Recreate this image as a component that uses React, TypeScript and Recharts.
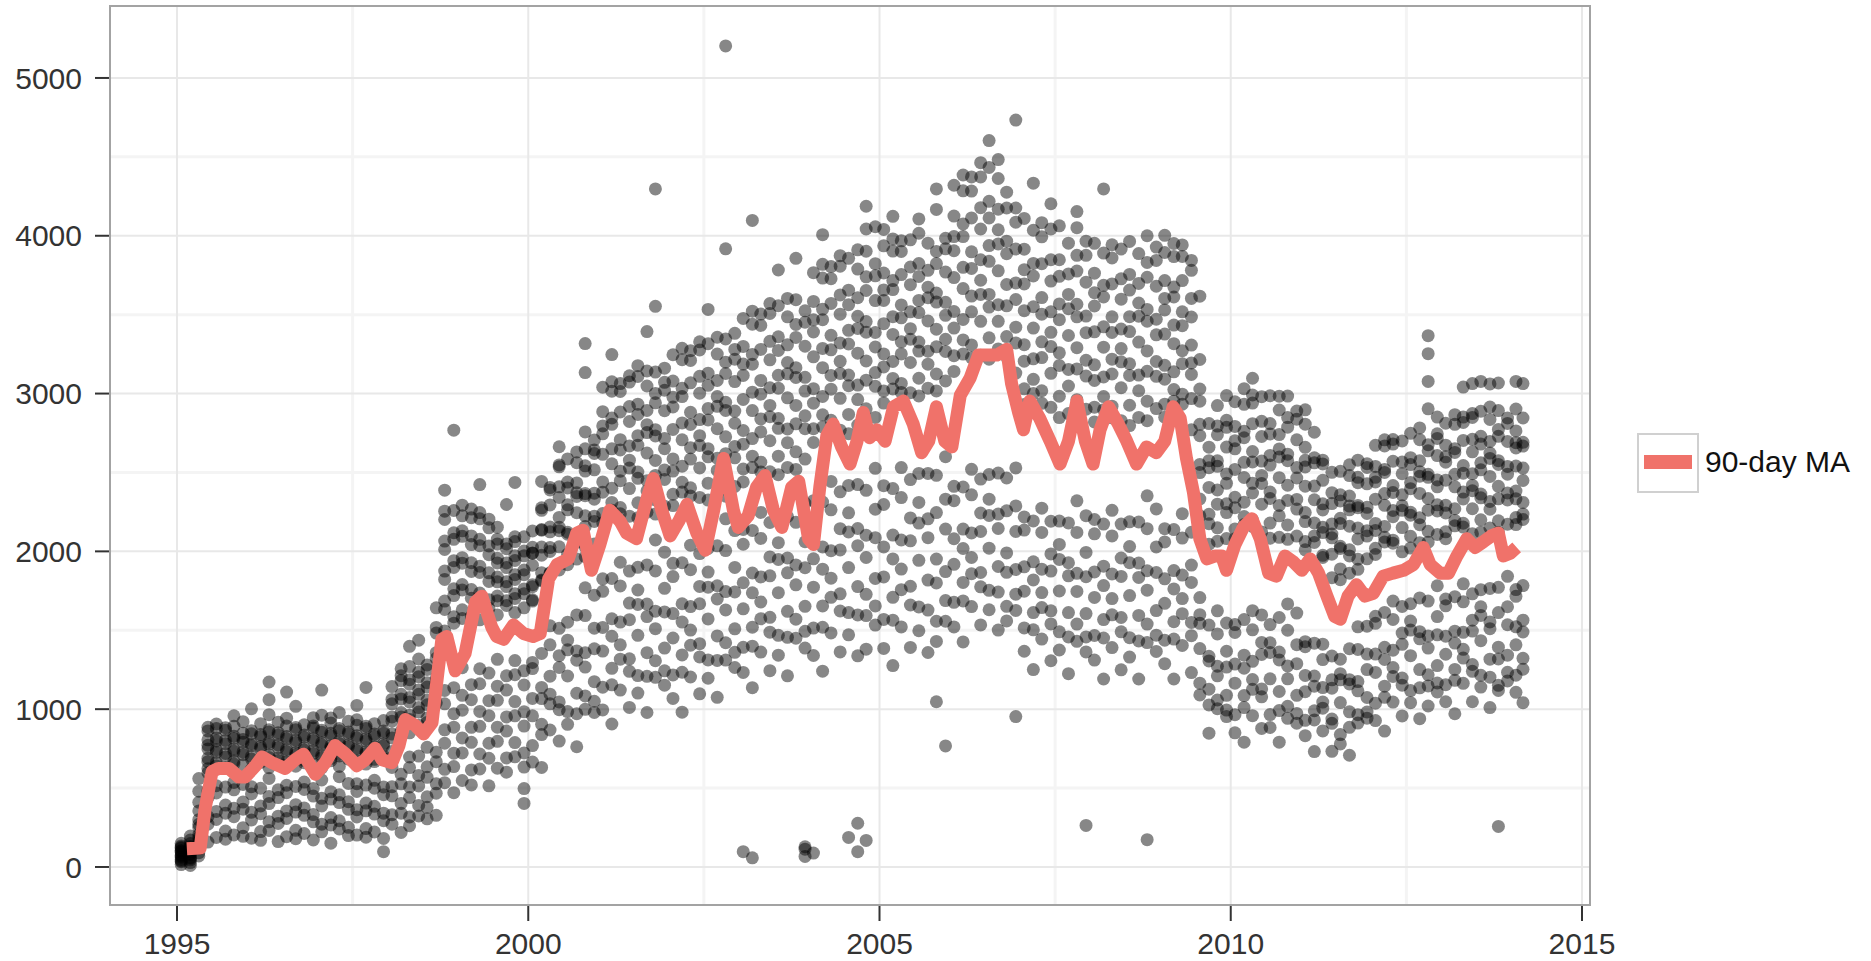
import React from "react";
import { ComposedChart, Scatter, Line, XAxis, YAxis, CartesianGrid } from "recharts";

const yearTicks = [1995, 2000, 2005, 2010, 2015];
const yearMinor = [1997.5, 2002.5, 2007.5, 2012.5];
const countTicks = [0, 1000, 2000, 3000, 4000, 5000];
const countMinor = [500, 1500, 2500, 3500, 4500];
const xDomain: [number, number] = [1994.046, 2015.114];
const yDomain: [number, number] = [-241, 5456];

// 90-day moving average
const maYears = [
  1995.14, 1995.33, 1995.4, 1995.5, 1995.59, 1995.74, 1995.88, 1995.97, 1996.12, 1996.21,
  1996.35, 1996.54, 1996.68, 1996.8, 1996.97, 1997.11, 1997.25, 1997.4, 1997.56, 1997.68,
  1997.82, 1997.92, 1998.06, 1998.16, 1998.25, 1998.39, 1998.51, 1998.63, 1998.77, 1998.84,
  1998.96, 1999.1, 1999.25, 1999.34, 1999.48, 1999.55, 1999.65, 1999.79, 1999.93, 2000.07,
  2000.17, 2000.29, 2000.41, 2000.57, 2000.69, 2000.78, 2000.9, 2001.02, 2001.16, 2001.31,
  2001.4, 2001.54, 2001.69, 2001.78, 2001.9, 2002.02, 2002.14, 2002.26, 2002.4, 2002.52,
  2002.64, 2002.78, 2002.92, 2002.99, 2003.13, 2003.25, 2003.37, 2003.49, 2003.61, 2003.75,
  2003.85, 2003.99, 2004.06, 2004.15, 2004.25, 2004.34, 2004.46, 2004.58, 2004.68, 2004.77,
  2004.86, 2004.96, 2005.08, 2005.2, 2005.34, 2005.48, 2005.6, 2005.7, 2005.81, 2005.93,
  2006.03, 2006.15, 2006.29, 2006.41, 2006.53, 2006.67, 2006.81, 2006.88, 2006.98, 2007.05,
  2007.14, 2007.28, 2007.43, 2007.57, 2007.69, 2007.81, 2007.93, 2008.04, 2008.14, 2008.26,
  2008.4, 2008.52, 2008.66, 2008.8, 2008.94, 2009.06, 2009.18, 2009.28, 2009.37, 2009.47,
  2009.56, 2009.66, 2009.78, 2009.87, 2009.94, 2010.06, 2010.18, 2010.3, 2010.42, 2010.54,
  2010.65, 2010.77, 2010.89, 2011.01, 2011.13, 2011.25, 2011.37, 2011.48, 2011.56, 2011.67,
  2011.79, 2011.91, 2012.03, 2012.17, 2012.31, 2012.46, 2012.6, 2012.74, 2012.84, 2012.98,
  2013.1, 2013.22, 2013.36, 2013.48, 2013.6, 2013.71, 2013.81, 2013.88, 2013.98, 2014.07,
];
const maValues = [
  115, 120, 370, 606, 624, 624, 570, 570, 642, 697,
  661, 624, 679, 715, 588, 661, 770, 715, 642, 679,
  752, 679, 661, 770, 934, 897, 843, 915, 1443, 1461,
  1243, 1352, 1680, 1716, 1520, 1461, 1443, 1534, 1480, 1461,
  1480, 1825, 1916, 1952, 2116, 2134, 1880, 2043, 2261, 2189,
  2116, 2080, 2334, 2462, 2261, 2098, 2189, 2298, 2116, 2007,
  2261, 2589, 2261, 2152, 2225, 2407, 2480, 2261, 2152, 2407,
  2444, 2080, 2043, 2407, 2734, 2807, 2662, 2553, 2698, 2880,
  2720, 2771, 2698, 2916, 2953, 2807, 2625, 2698, 2916, 2698,
  2662, 2989, 3098, 3244, 3244, 3244, 3280, 3062, 2880, 2771,
  2953, 2844, 2698, 2553, 2698, 2953, 2698, 2553, 2771, 2916,
  2807, 2698, 2553, 2662, 2625, 2698, 2916, 2844, 2589, 2371,
  2080, 1952, 1971, 1971, 1880, 2043, 2152, 2207, 2080, 1862,
  1843, 1971, 1934, 1880, 1952, 1862, 1716, 1588, 1570, 1716,
  1789, 1716, 1734, 1843, 1862, 1880, 1916, 2025, 1916, 1862,
  1862, 1971, 2080, 2025, 2062, 2098, 2116, 1971, 1989, 2025,
];

// daily counts, one column per ~6 weeks: [year, counts]
const dots1995to1999: [number, number[]][] = [
  [1995.06, [15, 33, 48, 62, 77, 91, 104, 118, 133, 150, 70, 40, 100, 125]],
  [1995.19, [10, 28, 45, 60, 79, 95, 112, 130, 148, 171, 196, 55, 85, 120]],
  [1995.31, [70, 115, 160, 205, 250, 300, 355, 410, 130, 185, 90, 270, 480, 560]],
  [1995.44, [667, 689, 748, 771, 806, 862, 885, 158, 271, 319, 437, 482, 597, 623]],
  [1995.56, [641, 662, 726, 743, 799, 818, 877, 906, 187, 301, 352, 469, 515]],
  [1995.69, [628, 697, 719, 781, 802, 866, 883, 176, 228, 341, 392, 506]],
  [1995.81, [652, 671, 733, 748, 814, 829, 892, 958, 203, 319, 372, 489, 536]],
  [1995.94, [647, 711, 729, 791, 808, 848, 921, 194, 249, 366, 411, 523]],
  [1996.06, [620, 684, 701, 768, 781, 844, 864, 1002, 182, 297, 346, 463, 508]],
  [1996.19, [663, 681, 749, 763, 827, 839, 908, 169, 224, 338, 387, 499]],
  [1996.31, [629, 694, 711, 778, 791, 856, 869, 965, 1060, 1172, 231, 286, 402, 447, 561]],
  [1996.44, [674, 690, 756, 773, 835, 851, 917, 161, 276, 322, 440, 489]],
  [1996.56, [650, 666, 731, 746, 812, 826, 893, 943, 1108, 192, 307, 355, 471, 518]],
  [1996.69, [639, 709, 724, 789, 803, 869, 884, 1018, 179, 232, 348, 395, 510]],
  [1996.81, [661, 676, 741, 755, 822, 836, 901, 212, 327, 374, 491, 538]],
  [1996.94, [654, 719, 736, 800, 815, 880, 894, 946, 171, 286, 332, 449, 497]],
  [1997.06, [627, 693, 708, 774, 788, 853, 867, 962, 1121, 223, 271, 387, 435, 551]],
  [1997.19, [673, 688, 753, 768, 833, 847, 913, 944, 151, 266, 313, 430, 476]],
  [1997.31, [637, 704, 717, 783, 797, 863, 877, 979, 241, 293, 408, 457, 572]],
  [1997.44, [684, 697, 763, 776, 843, 856, 923, 199, 251, 365, 414, 529]],
  [1997.56, [658, 672, 738, 751, 818, 832, 898, 933, 1024, 202, 317, 363, 479, 528]],
  [1997.69, [652, 718, 731, 798, 812, 878, 892, 1138, 189, 243, 356, 405, 519]],
  [1997.81, [668, 682, 748, 762, 828, 842, 908, 222, 335, 384, 499, 549]],
  [1997.94, [688, 702, 768, 782, 848, 862, 928, 97, 181, 293, 341, 458, 507]],
  [1998.06, [731, 818, 842, 924, 951, 1034, 1062, 1143, 271, 331, 451, 509, 631]],
  [1998.19, [833, 861, 950, 979, 1065, 1094, 1181, 1212, 1256, 219, 341, 403, 527, 587]],
  [1998.31, [850, 934, 962, 1046, 1074, 1158, 1187, 1270, 1398, 262, 317, 440, 507, 630, 697]],
  [1998.44, [898, 982, 1010, 1094, 1122, 1206, 1234, 1318, 1437, 323, 390, 513, 580, 703]],
  [1998.56, [916, 944, 1028, 1056, 1140, 1168, 1252, 1280, 305, 378, 445, 568, 635, 758]],
  [1998.69, [1040, 1162, 1198, 1322, 1358, 1482, 1518, 1642, 327, 467, 527, 667, 727]],
  [1998.81, [1495, 1632, 1685, 1822, 1875, 2012, 2065, 2202, 2255, 2388, 534, 619, 784, 869, 1034, 1119]],
  [1998.94, [1545, 1586, 1720, 1763, 1898, 1941, 2076, 2118, 2259, 2768, 471, 636, 721, 886, 971, 1136]],
  [1999.06, [1575, 1630, 1755, 1790, 1925, 1960, 2095, 2130, 2225, 2293, 548, 723, 818, 993, 1088, 1263]],
  [1999.19, [1588, 1703, 1758, 1873, 1928, 2043, 2098, 2213, 2268, 520, 615, 790, 885, 1060, 1155]],
  [1999.31, [1566, 1696, 1736, 1866, 1906, 2036, 2076, 2206, 2246, 2423, 621, 716, 891, 986, 1161, 1256]],
  [1999.44, [1639, 1694, 1809, 1864, 1979, 2034, 2149, 2204, 514, 689, 784, 959, 1054, 1229]],
  [1999.56, [1597, 1687, 1717, 1807, 1837, 1927, 1957, 2047, 2077, 2153, 626, 796, 886, 1056, 1146, 1316]],
  [1999.69, [1657, 1687, 1777, 1807, 1897, 1927, 2017, 2047, 2297, 601, 691, 861, 951, 1121, 1211]],
  [1999.81, [1612, 1702, 1732, 1822, 1852, 1942, 1972, 2062, 2092, 2437, 698, 788, 958, 1048, 1218, 1308]],
  [1999.94, [1642, 1732, 1762, 1852, 1882, 1972, 2002, 2092, 403, 497, 633, 723, 893, 983, 1153, 1243]],
];

const dots2000to2004: [number, number[]][] = [
  [2000.06, [1685, 1693, 1776, 1789, 1912, 1990, 1988, 2026, 2129, 665, 769, 958, 1068, 1257, 1296]],
  [2000.19, [1813, 1819, 1865, 1976, 2027, 2138, 2134, 2260, 2276, 2443, 631, 839, 904, 1067, 1138, 1353]],
  [2000.31, [1859, 1864, 1999, 2024, 2124, 2154, 2294, 2389, 2404, 868, 1034, 1095, 1209, 1408, 1528]],
  [2000.44, [1882, 2029, 2131, 2153, 2215, 2342, 2409, 2536, 2548, 2663, 798, 997, 1046, 1264, 1339, 1512]],
  [2000.56, [1915, 1982, 2109, 2121, 2263, 2295, 2402, 2439, 2586, 904, 985, 1210, 1376, 1437, 1551]],
  [2000.69, [1951, 2059, 2097, 2245, 2348, 2371, 2434, 2562, 2630, 762, 971, 1101, 1310, 1369, 1597]],
  [2000.81, [1966, 2029, 2157, 2225, 2353, 2366, 2509, 2542, 2650, 2757, 3133, 3317, 999, 1084, 1267, 1358, 1593, 1769]],
  [2000.94, [2047, 2190, 2223, 2331, 2369, 2517, 2620, 2643, 2706, 979, 1050, 1174, 1383, 1513, 1722]],
  [2001.06, [2180, 2240, 2375, 2440, 2615, 2745, 2795, 2885, 3040, 995, 1139, 1368, 1518, 1747, 1826]],
  [2001.19, [2260, 2310, 2400, 2555, 2650, 2805, 2845, 3015, 3075, 3247, 906, 1154, 1259, 1462, 1573, 1828]],
  [2001.31, [2238, 2278, 2448, 2508, 2643, 2708, 2883, 3013, 3063, 1121, 1317, 1408, 1552, 1781, 1931]],
  [2001.44, [2223, 2398, 2528, 2578, 2668, 2823, 2918, 3073, 3113, 1011, 1240, 1319, 1567, 1672, 1875]],
  [2001.56, [2213, 2308, 2463, 2503, 2673, 2733, 2868, 2933, 3108, 3177, 1102, 1213, 1468, 1664, 1755, 1899]],
  [2001.69, [2248, 2383, 2448, 2623, 2753, 2803, 2893, 3048, 3143, 3393, 979, 1208, 1358, 1587, 1666, 1914]],
  [2001.81, [2236, 2326, 2481, 2576, 2731, 2771, 2941, 3001, 3136, 3553, 4297, 1202, 1307, 1510, 1621, 1876, 2072]],
  [2001.94, [2286, 2456, 2516, 2651, 2716, 2891, 3021, 3071, 3161, 1152, 1243, 1387, 1616, 1766, 1995]],
  [2002.06, [2290, 2362, 2509, 2586, 2773, 2915, 2977, 3079, 3246, 1068, 1217, 1451, 1606, 1840, 1924]],
  [2002.19, [2376, 2438, 2540, 2707, 2814, 2981, 3033, 3215, 3287, 981, 1234, 1344, 1552, 1668, 1928]],
  [2002.31, [2351, 2403, 2585, 2657, 2804, 2881, 3068, 3210, 3272, 1204, 1405, 1501, 1650, 1884, 2039]],
  [2002.44, [2342, 2529, 2671, 2733, 2835, 3002, 3109, 3276, 3328, 1097, 1331, 1415, 1668, 1778, 1986]],
  [2002.56, [2325, 2432, 2599, 2651, 2833, 2905, 3052, 3129, 3316, 3533, 1196, 1312, 1572, 1773, 1869, 2018]],
  [2002.69, [2366, 2513, 2590, 2777, 2919, 2981, 3083, 3250, 3357, 1075, 1309, 1464, 1698, 1782, 2035]],
  [2002.81, [2350, 2452, 2619, 2726, 2893, 2945, 3127, 3199, 3346, 3917, 5203, 1311, 1421, 1629, 1745, 2005, 2206]],
  [2002.94, [2411, 2593, 2665, 2812, 2889, 3076, 3218, 3280, 3382, 1264, 1360, 1509, 1743, 1898, 2132]],
  [2003.06, [2440, 2522, 2679, 2766, 2963, 3115, 3187, 3299, 3476, 97, 1233, 1392, 1636, 1801, 2045, 2139]],
  [2003.19, [2531, 2603, 2715, 2892, 3009, 3186, 3248, 3440, 3522, 4097, 58, 1136, 1399, 1519, 1737, 1863, 2133]],
  [2003.31, [2503, 2565, 2757, 2839, 2996, 3083, 3280, 3432, 3504, 1362, 1573, 1679, 1838, 2082, 2247]],
  [2003.44, [2504, 2701, 2853, 2925, 3037, 3214, 3331, 3508, 3570, 1244, 1488, 1582, 1845, 1965, 2183]],
  [2003.56, [2486, 2603, 2780, 2842, 3034, 3116, 3273, 3360, 3557, 3783, 1342, 1468, 1738, 1949, 2055, 2214]],
  [2003.69, [2532, 2689, 2776, 2973, 3125, 3197, 3309, 3486, 3603, 1211, 1455, 1620, 1864, 1958, 2221]],
  [2003.81, [2519, 2631, 2808, 2925, 3102, 3164, 3356, 3438, 3595, 3857, 1450, 1570, 1788, 1914, 2184, 2395]],
  [2003.94, [2585, 2777, 2859, 3016, 3103, 3300, 3452, 3524, 67, 113, 128, 1387, 1493, 1652, 1896, 2061, 2305]],
  [2004.06, [2690, 2777, 2939, 3031, 3233, 3390, 3467, 3584, 3766, 88, 1340, 1514, 1773, 1953, 2212, 2321]],
  [2004.19, [2788, 2865, 2982, 3164, 3286, 3468, 3535, 3732, 3819, 4007, 1241, 1519, 1654, 1887, 2028, 2313]],
  [2004.31, [2764, 2831, 3028, 3115, 3277, 3369, 3571, 3728, 3805, 1483, 1709, 1830, 2004, 2263, 2443]],
  [2004.44, [2768, 2970, 3127, 3204, 3321, 3503, 3625, 3807, 3874, 1363, 1622, 1731, 2009, 2144, 2377]],
  [2004.56, [2746, 2868, 3050, 3117, 3314, 3401, 3563, 3655, 3857, 187, 1471, 1612, 1897, 2123, 2244, 2418]],
  [2004.69, [2800, 2962, 3054, 3256, 3413, 3490, 3607, 3789, 3911, 277, 97, 1338, 1597, 1777, 2036, 2145, 2423]],
  [2004.81, [2786, 2903, 3085, 3207, 3389, 3456, 3653, 3740, 3902, 4043, 4187, 168, 1380, 1593, 1728, 1961, 2102, 2387]],
  [2004.94, [2849, 3046, 3133, 3295, 3387, 3589, 3746, 3823, 4057, 1533, 1654, 1828, 2087, 2267, 2526]],
];

const dots2005to2009: [number, number[]][] = [
  [2005.06, [2940, 3017, 3169, 3251, 3443, 3590, 3657, 3764, 3936, 4040, 1385, 1569, 1838, 2028, 2297, 2416]],
  [2005.19, [3029, 3096, 3203, 3375, 3487, 3659, 3716, 3903, 3980, 4123, 1276, 1564, 1709, 1952, 2103, 2398]],
  [2005.31, [3007, 3064, 3251, 3328, 3480, 3562, 3754, 3901, 3968, 1521, 1757, 1888, 2072, 2341, 2531]],
  [2005.44, [3005, 3197, 3344, 3411, 3518, 3690, 3802, 3974, 1391, 1660, 1779, 2067, 2212, 2455]],
  [2005.56, [2985, 3097, 3269, 3326, 3513, 3590, 3742, 3824, 4016, 4107, 1497, 1648, 1943, 2179, 2310, 2494]],
  [2005.69, [3034, 3186, 3268, 3460, 3607, 3674, 3781, 3953, 1359, 1628, 1818, 2087, 2206, 2494]],
  [2005.81, [3017, 3124, 3296, 3408, 3580, 3637, 3824, 3901, 4167, 4297, 1047, 1429, 1557, 1800, 1951, 2246, 2482]],
  [2005.94, [3080, 3267, 3344, 3496, 3578, 3770, 3917, 3984, 767, 1557, 1688, 1872, 2141, 2331, 2600]],
  [2006.06, [3140, 3240, 3415, 3520, 3735, 3905, 3995, 4125, 4320, 1521, 1677, 1918, 2080, 2321, 2412]],
  [2006.19, [3250, 3340, 3470, 3665, 3800, 3995, 4075, 4285, 4385, 1426, 1686, 1803, 2018, 2141, 2408]],
  [2006.31, [3228, 3308, 3518, 3618, 3793, 3898, 4113, 4283, 4373, 1650, 1858, 1961, 2117, 2358, 2520]],
  [2006.44, [3243, 3458, 3628, 3718, 3848, 4043, 4178, 4373, 4463, 1534, 1775, 1866, 2126, 2243, 2458]],
  [2006.56, [3218, 3353, 3548, 3628, 3838, 3938, 4113, 4218, 4433, 4603, 1630, 1753, 2020, 2228, 2331, 2487]],
  [2006.69, [3283, 3458, 3563, 3778, 3948, 4038, 4168, 4363, 4483, 1501, 1742, 1904, 2145, 2236, 2496]],
  [2006.81, [3231, 3361, 3556, 3691, 3886, 3966, 4176, 4276, 1559, 1652, 1867, 1990, 2257, 2465]],
  [2006.94, [3130, 3321, 3421, 3596, 3701, 3916, 4086, 4176, 4733, 953, 1626, 1729, 1885, 2126, 2288, 2529]],
  [2007.06, [2930, 3030, 3205, 3310, 3525, 3695, 3785, 3915, 4110, 1367, 1515, 1748, 1902, 2135, 2218]],
  [2007.19, [3000, 3090, 3220, 3415, 3550, 3745, 3825, 4035, 4333, 1251, 1503, 1612, 1819, 1934, 2193]],
  [2007.31, [2938, 3018, 3228, 3328, 3503, 3608, 3823, 3993, 4083, 1444, 1644, 1739, 1887, 2120, 2274]],
  [2007.44, [2913, 3128, 3298, 3388, 3518, 3713, 3848, 4043, 4203, 1307, 1540, 1623, 1875, 1984, 2191]],
  [2007.56, [2848, 2983, 3178, 3258, 3468, 3568, 3743, 3848, 4063, 1375, 1490, 1749, 1949, 2044, 2192]],
  [2007.69, [2873, 3048, 3153, 3368, 3538, 3628, 3758, 3953, 1225, 1458, 1612, 1845, 1928, 2180]],
  [2007.81, [2831, 2961, 3156, 3291, 3486, 3566, 3776, 3876, 4051, 4153, 1430, 1539, 1746, 1861, 2120, 2320]],
  [2007.94, [2901, 3111, 3211, 3386, 3491, 3706, 3876, 3966, 263, 1363, 1458, 1606, 1839, 1993, 2226]],
  [2008.06, [2820, 2914, 3083, 3182, 3391, 3555, 3639, 3763, 3952, 1311, 1467, 1708, 1870, 2111, 2202]],
  [2008.19, [2897, 2981, 3105, 3294, 3423, 3612, 3686, 3890, 4297, 1191, 1451, 1568, 1783, 1906, 2173]],
  [2008.31, [2846, 2920, 3124, 3218, 3387, 3486, 3695, 3859, 3943, 1390, 1598, 1701, 1857, 2098, 2260]],
  [2008.44, [2828, 3037, 3201, 3285, 3409, 3598, 3727, 3916, 1249, 1490, 1581, 1841, 1958, 2173]],
  [2008.56, [2797, 2926, 3115, 3189, 3393, 3487, 3656, 3755, 3964, 1330, 1453, 1720, 1928, 2031, 2187]],
  [2008.69, [2849, 3018, 3117, 3326, 3490, 3574, 3698, 3887, 1191, 1432, 1594, 1835, 1926, 2186]],
  [2008.81, [2828, 2952, 3141, 3270, 3459, 3533, 3737, 3831, 4000, 173, 1422, 1539, 1754, 1877, 2144, 2352]],
  [2008.94, [2905, 3109, 3203, 3372, 3471, 3680, 3844, 3928, 1366, 1469, 1625, 1866, 2028, 2269]],
  [2009.06, [2850, 2933, 3091, 3179, 3377, 3530, 3603, 3716, 3894, 4003, 1288, 1437, 1671, 1826, 2060, 2144]],
  [2009.19, [2952, 3025, 3138, 3316, 3434, 3612, 3675, 3868, 3951, 1191, 1444, 1554, 1762, 1878, 2138]],
  [2009.31, [2933, 2996, 3189, 3272, 3430, 3518, 3716, 3869, 3942, 1404, 1605, 1701, 1850, 2084, 2239]],
  [2009.44, [2770, 2968, 3121, 3194, 3307, 3485, 3603, 3781, 3844, 1232, 1466, 1550, 1803, 1913, 2121]],
  [2009.56, [2225, 2332, 2499, 2551, 2733, 2805, 2952, 3029, 3216, 3617, 1090, 1165, 1384, 1544, 1599, 1707]],
  [2009.69, [2045, 2175, 2235, 2405, 2530, 2575, 2660, 2810, 848, 1027, 1127, 1306, 1335, 1533]],
  [2009.81, [2064, 2149, 2299, 2389, 2539, 2574, 2739, 2794, 2924, 1003, 1058, 1211, 1272, 1477, 1623]],
  [2009.94, [2081, 2246, 2301, 2431, 2491, 2661, 2786, 2831, 2987, 953, 994, 1088, 1267, 1367, 1546]],
];

const dots2010to2014: [number, number[]][] = [
  [2010.06, [2080, 2141, 2277, 2343, 2519, 2650, 2701, 2792, 2948, 850, 965, 1165, 1286, 1486, 1536]],
  [2010.19, [2170, 2221, 2312, 2468, 2564, 2720, 2761, 2932, 3031, 791, 1010, 1086, 1260, 1342, 1568]],
  [2010.31, [2158, 2199, 2370, 2431, 2567, 2633, 2809, 2940, 2991, 3097, 959, 1126, 1188, 1303, 1503, 1624]],
  [2010.44, [2123, 2299, 2430, 2481, 2572, 2728, 2824, 2980, 878, 1078, 1128, 1347, 1423, 1597]],
  [2010.56, [2083, 2179, 2335, 2376, 2547, 2608, 2744, 2810, 2986, 884, 966, 1192, 1359, 1421, 1536]],
  [2010.69, [2089, 2225, 2291, 2467, 2598, 2649, 2740, 2896, 2983, 791, 991, 1112, 1312, 1362, 1581]],
  [2010.81, [2076, 2167, 2323, 2419, 2575, 2616, 2787, 2848, 2984, 942, 1018, 1192, 1274, 1500, 1667]],
  [2010.94, [2097, 2268, 2329, 2465, 2531, 2707, 2838, 2889, 911, 973, 1088, 1288, 1409, 1609]],
  [2011.06, [2010, 2062, 2189, 2246, 2413, 2535, 2577, 2659, 2806, 2897, 832, 929, 1111, 1214, 1396, 1428]],
  [2011.19, [2056, 2098, 2180, 2327, 2414, 2561, 2593, 2755, 731, 932, 990, 1146, 1210, 1418]],
  [2011.31, [1961, 1975, 2119, 2153, 2262, 2301, 2450, 2554, 2578, 862, 1006, 1045, 1137, 1314, 1412]],
  [2011.44, [1833, 1982, 2086, 2110, 2174, 2303, 2372, 2501, 733, 910, 937, 1133, 1186, 1337]],
  [2011.56, [1820, 1889, 2018, 2032, 2176, 2210, 2319, 2358, 2507, 780, 839, 1042, 1186, 1225, 1317]],
  [2011.69, [1862, 1971, 2010, 2159, 2263, 2287, 2351, 2480, 2549, 708, 885, 983, 1160, 1187, 1383]],
  [2011.81, [1886, 1950, 2079, 2148, 2277, 2291, 2435, 2469, 2578, 912, 965, 1116, 1175, 1378, 1522]],
  [2011.94, [1953, 2097, 2131, 2240, 2279, 2428, 2532, 2556, 943, 982, 1074, 1251, 1349, 1526]],
  [2012.06, [1980, 2019, 2133, 2177, 2331, 2440, 2469, 2538, 2672, 928, 1038, 1233, 1349, 1544, 1589]],
  [2012.19, [2060, 2089, 2158, 2292, 2366, 2500, 2519, 2668, 2707, 861, 1075, 1146, 1315, 1392, 1613]],
  [2012.31, [2052, 2071, 2220, 2259, 2373, 2417, 2571, 2680, 2709, 1045, 1207, 1264, 1374, 1569, 1685]],
  [2012.44, [1997, 2151, 2260, 2289, 2358, 2492, 2566, 2700, 957, 1152, 1197, 1411, 1482, 1651]],
  [2012.56, [2021, 2095, 2229, 2248, 2397, 2436, 2550, 2594, 2748, 1041, 1118, 1339, 1501, 1558, 1668]],
  [2012.69, [2055, 2169, 2213, 2367, 2476, 2505, 2574, 2708, 2782, 940, 1135, 1251, 1446, 1491, 1705]],
  [2012.81, [2058, 2127, 2261, 2335, 2469, 2488, 2637, 2676, 2903, 3077, 3253, 3367, 1020, 1147, 1218, 1387, 1464, 1685]],
  [2012.94, [2107, 2256, 2295, 2409, 2453, 2607, 2716, 2745, 2851, 1109, 1166, 1276, 1471, 1587, 1782]],
  [2013.06, [2080, 2124, 2243, 2292, 2451, 2565, 2599, 2673, 2812, 1047, 1155, 1348, 1462, 1655, 1698]],
  [2013.19, [2162, 2196, 2270, 2409, 2488, 2627, 2651, 2805, 2866, 971, 1183, 1252, 1419, 1494, 1713]],
  [2013.31, [2154, 2178, 2332, 2376, 2495, 2544, 2703, 2817, 2851, 3041, 1164, 1324, 1379, 1487, 1680, 1794]],
  [2013.44, [2111, 2270, 2384, 2418, 2492, 2631, 2710, 2849, 2873, 3063, 1047, 1240, 1283, 1495, 1564, 1731]],
  [2013.56, [2121, 2200, 2339, 2363, 2517, 2561, 2680, 2729, 2888, 3077, 1140, 1215, 1434, 1594, 1649, 1757]],
  [2013.69, [2148, 2267, 2316, 2475, 2589, 2623, 2697, 2836, 2915, 3061, 1010, 1203, 1317, 1510, 1553, 1765]],
  [2013.81, [2120, 2194, 2333, 2412, 2551, 2575, 2729, 2773, 2892, 3067, 257, 1119, 1151, 1318, 1393, 1612, 1772]],
  [2013.94, [2172, 2326, 2370, 2489, 2538, 2697, 2811, 2845, 1179, 1234, 1342, 1535, 1649, 1842]],
  [2014.06, [2170, 2214, 2333, 2382, 2541, 2655, 2689, 2763, 2902, 3077, 1107, 1215, 1408, 1522, 1715, 1758]],
  [2014.16, [2202, 2236, 2310, 2449, 2528, 2667, 2691, 2845, 3063, 1041, 1253, 1322, 1489, 1564, 1783]],
];

const maData = maYears.map((year, i) => ({ year, ma: maValues[i] }));
const dotData = [...dots1995to1999, ...dots2000to2004, ...dots2005to2009, ...dots2010to2014].flatMap(
  ([year, counts]) => counts.map((count) => ({ year, count }))
);

const FONT = "'Liberation Sans', Arial, Helvetica, sans-serif";
const RED = "#F0726A";
const CHART_W = 1871;
const CHART_H = 961;

const Dot = (props: any) => (
  <circle cx={props.cx} cy={props.cy} r={6.5} fill="#000" fillOpacity={0.47} />
);

export default function App() {
  return (
    <div style={{ position: "absolute", left: 0, top: 0, width: CHART_W, height: CHART_H, background: "#fff", fontFamily: FONT }}>
      {/* points, grid and axes */}
      <div style={{ position: "absolute", left: 0, top: 0 }}>
        <ComposedChart width={CHART_W} height={CHART_H} margin={{ top: 6, right: 281, bottom: 0, left: 0 }}>
          <CartesianGrid horizontalValues={countMinor} verticalValues={yearMinor} stroke="#f4f4f4" strokeWidth={3} />
          <CartesianGrid horizontalValues={countTicks} verticalValues={yearTicks} stroke="#e8e8e8" strokeWidth={2} />
          <XAxis
            dataKey="year"
            type="number"
            domain={xDomain}
            allowDataOverflow
            ticks={yearTicks}
            interval={0}
            height={56}
            axisLine={false}
            tickSize={16}
            tickMargin={12}
            tickLine={{ stroke: "#333", strokeWidth: 2 }}
            tick={{ fill: "#333", fontSize: 30, fontFamily: FONT }}
          />
          <YAxis
            type="number"
            domain={yDomain}
            allowDataOverflow
            ticks={countTicks}
            interval={0}
            width={110}
            axisLine={false}
            tickSize={15}
            tickMargin={13}
            tickLine={{ stroke: "#333", strokeWidth: 2 }}
            tick={{ fill: "#333", fontSize: 30, fontFamily: FONT }}
          />
          <Scatter data={dotData} dataKey="count" shape={Dot} isAnimationActive={false} />
        </ComposedChart>
      </div>
      {/* moving average drawn over the points */}
      <div style={{ position: "absolute", left: 0, top: 0, pointerEvents: "none" }}>
        <ComposedChart width={CHART_W} height={CHART_H} margin={{ top: 6, right: 281, bottom: 56, left: 110 }}>
          <XAxis dataKey="year" type="number" domain={xDomain} allowDataOverflow hide />
          <YAxis type="number" domain={yDomain} allowDataOverflow hide />
          <Line
            data={maData}
            dataKey="ma"
            type="linear"
            stroke={RED}
            strokeWidth={13}
            strokeLinejoin="round"
            dot={false}
            activeDot={false}
            isAnimationActive={false}
          />
        </ComposedChart>
      </div>
      {/* panel border */}
      <div style={{ position: "absolute", left: 109, top: 5, width: 1482, height: 901, border: "2px solid #a3a3a3", boxSizing: "border-box", pointerEvents: "none" }} />
      {/* legend */}
      <div style={{ position: "absolute", left: 1637, top: 433, width: 62, height: 60, border: "2px solid #d0d0d0", boxSizing: "border-box", background: "#fff" }}>
        <div style={{ position: "absolute", left: 5, top: 20, width: 48, height: 14, background: RED }} />
      </div>
      <div style={{ position: "absolute", left: 1705, top: 447, fontSize: 30, lineHeight: "30px", color: "#111", whiteSpace: "nowrap" }}>
        90-day MA
      </div>
    </div>
  );
}
